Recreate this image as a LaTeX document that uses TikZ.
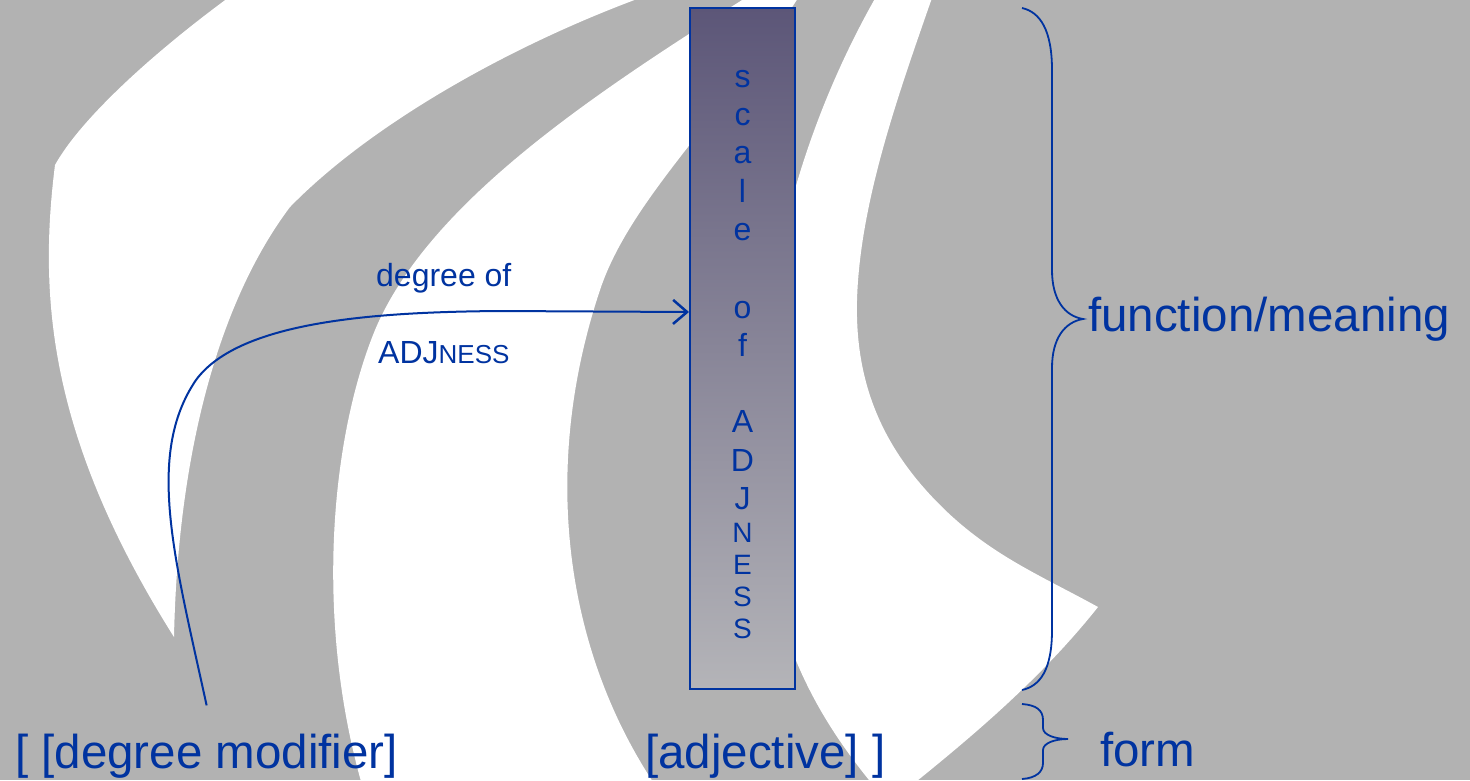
\documentclass[tikz,border=0pt]{standalone}
\usepackage{fontspec}
\setmainfont{Liberation Sans}
\usetikzlibrary{arrows.meta}

\definecolor{slideblue}{RGB}{0,51,160}
\definecolor{slidegrey}{RGB}{178,178,178}
\definecolor{boxtop}{RGB}{92,86,120}
\definecolor{boxbottom}{RGB}{180,180,184}

\tikzset{
	bigtext/.style={text=slideblue, inner sep=0pt, anchor=base west, font=\fontsize{47.5}{57}\selectfont},
	midtext/.style={text=slideblue, inner sep=0pt, anchor=base west, font=\fontsize{32}{38}\selectfont},
	letter/.style={text=slideblue, inner sep=0pt, anchor=base, font=\fontsize{32}{38}\selectfont},
	smallletter/.style={letter, font=\fontsize{28}{32}\selectfont},
	scalebox/.style={draw=slideblue, line width=2pt, top color=boxtop, bottom color=boxbottom,
		minimum width=105pt, minimum height=681pt, inner sep=0pt},
	curly/.style={draw=slideblue, line width=1.8pt}
}

\begin{document}
\begin{tikzpicture}[x=1pt, y=-1pt]
	% Background
	\useasboundingbox (0,0) rectangle (1470,780);
	\fill [slidegrey] (0,0) rectangle (1470,780);
	\clip (0,0) rectangle (1470,780);
	% Swooshes
	\fill [white] (232,-5) .. controls (150,55) and (80,120) .. (55,165)
		.. controls (38,300) and (50,440) .. (174,637)
		.. controls (178,450) and (220,300) .. (290,207)
		.. controls (370,125) and (510,45) .. (648,-5) -- cycle;
	\fill [white] (750,-5) .. controls (600,90) and (430,200) .. (375,330)
		.. controls (330,440) and (315,620) .. (362,785) -- (655,785)
		.. controls (565,650) and (540,470) .. (600,290)
		.. controls (630,200) and (720,120) .. (800,-5) -- cycle;
	\fill [white] (877,-5) .. controls (800,130) and (750,300) .. (760,500)
		.. controls (770,640) and (820,720) .. (873,785) -- (912,785)
		.. controls (970,738) and (1040,680) .. (1098,607)
		.. controls (1040,575) and (990,555) .. (940,505)
		.. controls (880,445) and (855,380) .. (857,300)
		.. controls (860,200) and (900,90) .. (933,-5) -- cycle;
	% Scale
	\node [scalebox] (scale) at (742.5,348.5) {};
	\foreach \ch/\yy in {s/87, c/125, a/163, l/202, e/240, o/318, f/356, A/432, D/471, J/509} {
		\node [letter] (ch\yy) at (742.5,\yy) {\ch};
	}
	\foreach \ch/\yy in {N/542, E/574, S/606, S/638} {
		\node [smallletter] (ch\yy) at (742.5,\yy) {\ch};
	}
	% Labels
	\node [bigtext] (degmod) at (15,768) {[ [degree modifier]};
	\node [bigtext] (adj) at (645,768) {[adjective] ]};
	\node [bigtext] (func) at (1088,331) {function/meaning};
	\node [bigtext] (form) at (1100,766) {form};
	\node [midtext] (degof) at (376,286) {degree of};
	\node [midtext] (adjness) at (378,363) {ADJ{\fontsize{26}{30}\selectfont NESS}};
	% Arrow
	\draw [slideblue, line width=2pt, -{Straight Barb[length=14pt, width=24pt, line width=2.5pt]}]
		([yshift=28pt]degmod.north) .. controls (175,560) and (145,455) .. (196,380)
		.. controls (240,320) and (380,312) .. (500,311) -- ([yshift=36.5pt]scale.west);
	% Braces
	\draw [curly] (1022,8) .. controls (1040,12) and (1052,30) .. (1052,70) -- (1052,270)
		.. controls (1052,300) and (1065,316) .. (1083,319)
		.. controls (1065,322) and (1052,338) .. (1052,368) -- (1052,630)
		.. controls (1052,670) and (1040,686) .. (1022,690);
	\draw [curly] (1022,704) .. controls (1036,705) and (1043,710) .. (1043,720) -- (1043,728)
		.. controls (1043,735) and (1055,739) .. (1068,739)
		.. controls (1055,739) and (1043,743) .. (1043,750) -- (1043,763)
		.. controls (1043,772) and (1036,778) .. (1022,779);
\end{tikzpicture}
\end{document}
